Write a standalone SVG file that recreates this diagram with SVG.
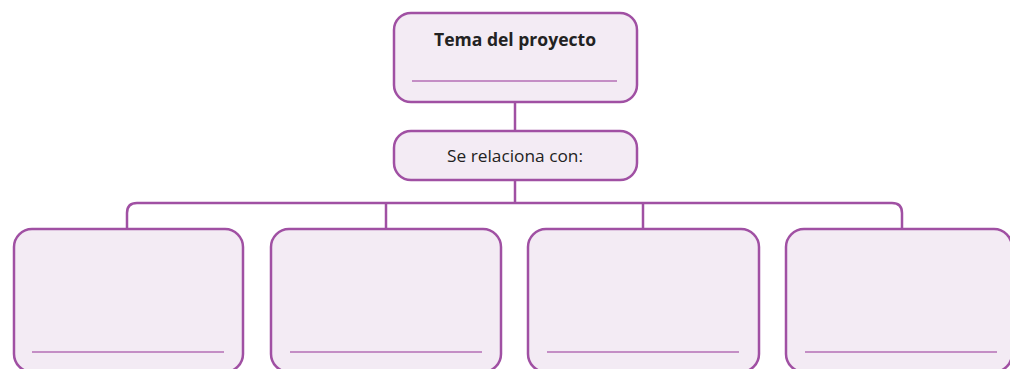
<svg xmlns="http://www.w3.org/2000/svg" width="1010" height="369" viewBox="0 0 1010 369">
<style>
.box{fill:#f3ebf4;stroke:#a050a3;stroke-width:2.5}
.conn{fill:none;stroke:#a050a3;stroke-width:2.5}
.rule{stroke:#b46fb6;stroke-width:1.5}
.t{font-family:"Open Sans","Noto Sans",sans-serif;fill:#222;text-anchor:middle}
</style>
<rect width="1010" height="369" fill="#ffffff"/>
<g id="connectors">
<line class="conn" x1="515" y1="102" x2="515" y2="131"/>
<line class="conn" x1="515" y1="180" x2="515" y2="203"/>
<path class="conn" d="M127 229 V213 Q127 203 137 203 H892 Q902 203 902 213 V229"/>
<line class="conn" x1="386" y1="203" x2="386" y2="229"/>
<line class="conn" x1="643" y1="203" x2="643" y2="229"/>
</g>
<g id="tema">
<rect class="box" x="394" y="13" width="243" height="89" rx="17"/>
<text class="t" x="515" y="46" font-size="17.5" font-weight="bold" textLength="162" lengthAdjust="spacingAndGlyphs">Tema del proyecto</text>
<line class="rule" x1="412" y1="81" x2="617" y2="81"/>
</g>
<g id="relaciona">
<rect class="box" x="394" y="131" width="243" height="49" rx="17"/>
<text class="t" x="515" y="162" font-size="17" textLength="136" lengthAdjust="spacingAndGlyphs">Se relaciona con:</text>
</g>
<g id="box1">
<rect class="box" x="14" y="229" width="229" height="143" rx="18"/>
<line class="rule" x1="32" y1="352" x2="224" y2="352"/>
</g>
<g id="box2">
<rect class="box" x="271" y="229" width="230" height="143" rx="18"/>
<line class="rule" x1="290" y1="352" x2="482" y2="352"/>
</g>
<g id="box3">
<rect class="box" x="528" y="229" width="231" height="143" rx="18"/>
<line class="rule" x1="547" y1="352" x2="739" y2="352"/>
</g>
<g id="box4">
<rect class="box" x="786" y="229" width="226" height="143" rx="18"/>
<line class="rule" x1="805" y1="352" x2="997" y2="352"/>
</g>
</svg>
